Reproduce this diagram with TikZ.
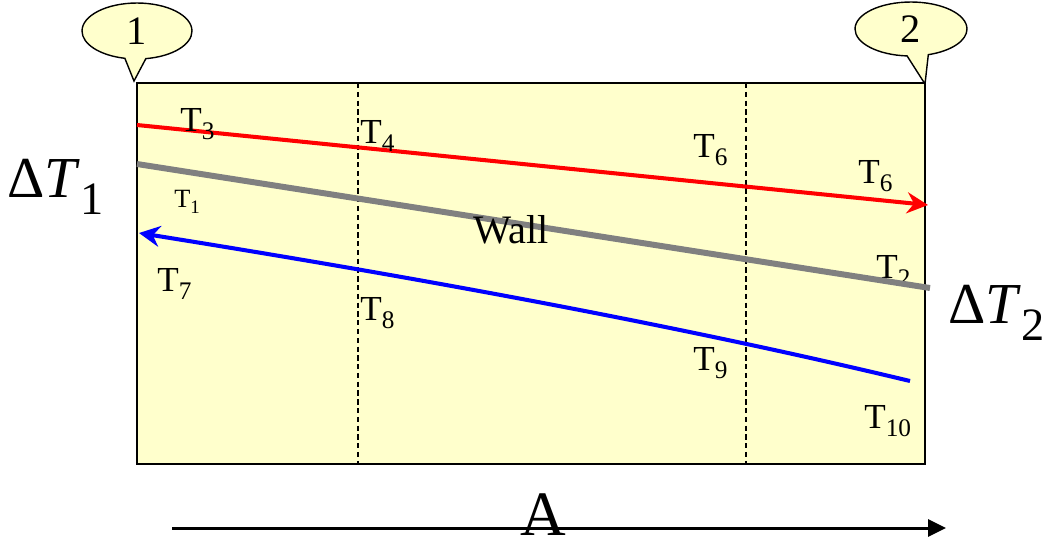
\documentclass[tikz,border=0pt]{standalone}
\usepackage{fontspec}
\setmainfont{Liberation Serif}
\usetikzlibrary{arrows.meta}
\usetikzlibrary{shapes.callouts}
\definecolor{paleyellow}{RGB}{255,255,204}
\newcommand{\Tsub}[1]{T\raisebox{-0.24em}{\scalebox{0.72}{#1}}}
\newcommand{\dTsub}[1]{Δ\textit{T}\raisebox{-0.3em}{\scalebox{0.8}{#1}}}

\begin{document}
\begin{tikzpicture}[x=0.02cm,y=-0.02cm,
  tlab/.style={anchor=base west,inner sep=0pt,font=\fontsize{20}{20}\selectfont},
  flow/.style={line width=2.3pt,-{Stealth[length=0.42cm,width=0.42cm,inset=0.14cm]}},
  bubble/.style={ellipse callout,draw,line width=0.8pt,fill=paleyellow,inner sep=0pt,
    callout pointer arc=22,font=\fontsize{23}{23}\selectfont}]
\useasboundingbox (0,0) rectangle (1048,542);
\draw[fill=paleyellow,line width=0.8pt] (137,83) rectangle (925,464);
\draw[dash pattern=on 3pt off 2pt,line width=0.7pt] (358,83) -- (358,464);
\draw[dash pattern=on 3pt off 2pt,line width=0.7pt] (746,83) -- (746,464);
\node[bubble,minimum width=2.2cm,minimum height=1.12cm,callout absolute pointer={(134,81)}] (c1) at (137,31) {1};
\node[bubble,minimum width=2.24cm,minimum height=1.08cm,callout absolute pointer={(925,84)}] (c2) at (911,29) {2};
\coordinate (hotin) at (137,125);
\coordinate (hotout) at (928,205);
\coordinate (wallL) at (137,164);
\coordinate (wallR) at (930,288);
\coordinate (coldin) at (910,381);
\coordinate (coldout) at (139,233);
\coordinate (aL) at (172,528);
\coordinate (aR) at (946,528);
\node[tlab] (t2) at (876,278) {\Tsub{2}};
\draw[red,flow] (hotin) -- (hotout);
\draw[gray,line width=3.4pt] (wallL) -- (wallR);
\draw[blue,flow] (coldin) .. controls (660,321) and (389,273) .. (coldout);
\draw[line width=1.7pt,-{Triangle[length=0.36cm,width=0.34cm]}] (aL) -- (aR);
\node[tlab] (t3) at (180,131) {\Tsub{3}};
\node[tlab] (t4) at (360,143) {\Tsub{4}};
\node[tlab] (t6a) at (693,157) {\Tsub{6}};
\node[tlab] (t6b) at (858,183) {\Tsub{6}};
\node[tlab,font=\fontsize{15}{15}\selectfont] (t1) at (174,207) {\Tsub{1}};
\node[tlab,font=\fontsize{23}{23}\selectfont] (wall) at (473,243) {Wall};
\node[tlab] (t7) at (157,291) {\Tsub{7}};
\node[tlab] (t8) at (360,320) {\Tsub{8}};
\node[tlab] (t9) at (693,370) {\Tsub{9}};
\node[tlab] (t10) at (864,428) {\Tsub{10}};
\node[tlab,font=\fontsize{33}{33}\selectfont] (dT1) at (7,197) {\dTsub{1}};
\node[tlab,font=\fontsize{33}{33}\selectfont] (dT2) at (948,323) {\dTsub{2}};
\node[anchor=base,inner sep=0pt,font=\fontsize{36}{36}\selectfont] (areaA) at (543,535) {A};
\end{tikzpicture}
\end{document}
